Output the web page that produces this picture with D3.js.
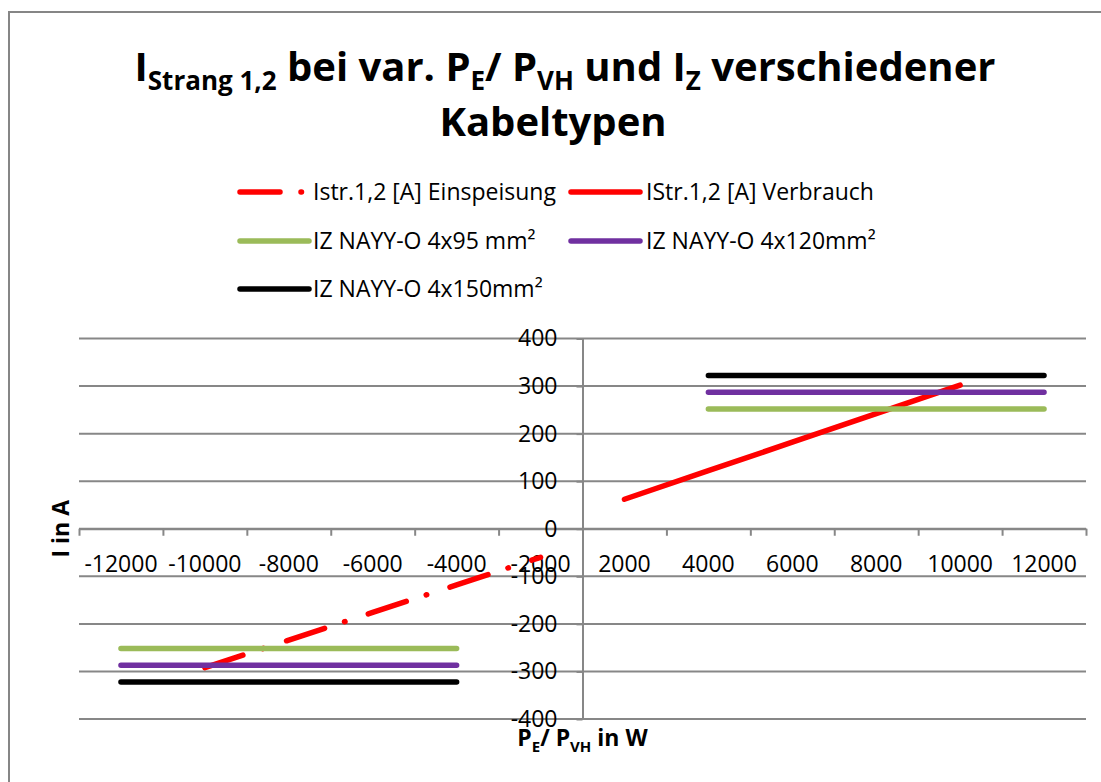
<!DOCTYPE html>
<html>
<head>
<meta charset="utf-8">
<script src="https://cdn.jsdelivr.net/npm/d3@7"></script>
<style>
  html, body { margin: 0; padding: 0; background: #fff; }
  svg { display: block; font-family: "Open Sans", "Noto Sans", sans-serif; }
</style>
</head>
<body>
<svg id="chart" width="1101" height="782"></svg>
<script>
// Power categories (W) on the horizontal axis
const categories = ["-12000", "-10000", "-8000", "-6000", "-4000", "-2000",
                    "2000", "4000", "6000", "8000", "10000", "12000"];

// Strand current while feeding in (negative power)
const einspeisung = [null, -292, -234, -176, -118, -60, null, null, null, null, null, null];
// Strand current while consuming
const verbrauch = [null, null, null, null, null, null, 62, 122, 182, 242, 302, null];
// Permissible current Iz of the cable types
const iz95  = [-252, -252, -252, -252, -252, null, null, 252, 252, 252, 252, 252];
const iz120 = [-287, -287, -287, -287, -287, null, null, 287, 287, 287, 287, 287];
const iz150 = [-322, -322, -322, -322, -322, null, null, 322, 322, 322, 322, 322];

const seriesNames = ["Istr.1,2 [A] Einspeisung", "IStr.1,2 [A] Verbrauch",
                     "IZ NAYY-O 4x95 mm²", "IZ NAYY-O 4x120mm²", "IZ NAYY-O 4x150mm²"];
const yTickValues = [-400, -300, -200, -100, 0, 100, 200, 300, 400];

const COLORS = ["#FF0000", "#FF0000", "#9BBB59", "#7030A0", "#000000"];
const DASH = ["40 21 0.5 24.5", null, null, null, null];
const GRID = "#878787";
const LINE_W = 5.5;

const svg = d3.select("#chart");
const plot = { left: 79, right: 1086, top: 338.5, bottom: 719 };

// outer chart frame
svg.append("rect")
  .attr("x", 9).attr("y", 12).attr("width", 1200).attr("height", 900)
  .attr("fill", "none").attr("stroke", "#868686").attr("stroke-width", 2);

const x = d3.scaleBand().domain(categories).range([plot.left, plot.right]).padding(0);
const xc = c => x(c) + x.bandwidth() / 2;
const y = d3.scaleLinear().domain([-400, 400]).range([plot.bottom, plot.top]);

// horizontal gridlines
svg.append("g").selectAll("line").data(yTickValues).join("line")
  .attr("x1", plot.left).attr("x2", plot.right)
  .attr("y1", d => y(d)).attr("y2", d => y(d))
  .attr("stroke", GRID).attr("stroke-width", 2);

// category axis at I = 0: tick marks on the category boundaries
const boundary = d3.scaleLinear().domain([0, categories.length]).range([plot.left, plot.right]);
const xTicks = svg.append("g").attr("transform", `translate(0,${y(0)})`)
  .call(d3.axisBottom(boundary).tickValues(d3.range(categories.length + 1))
        .tickFormat("").tickSizeInner(7).tickSizeOuter(0));
xTicks.select(".domain").attr("stroke", GRID).attr("stroke-width", 2);
xTicks.selectAll(".tick line").attr("stroke", GRID).attr("stroke-width", 2);

// category labels centred in each band
const xLabels = svg.append("g").attr("transform", `translate(0,${y(0)})`)
  .call(d3.axisBottom(x).tickSize(0).tickPadding(27));
xLabels.select(".domain").remove();
xLabels.selectAll("text").attr("font-size", 23).attr("fill", "#000")
  .attr("font-family", "Open Sans");

// value axis between the negative and positive categories
const yAxisX = boundary(6);
const yAxis = svg.append("g").attr("transform", `translate(${yAxisX},0)`)
  .call(d3.axisLeft(y).tickValues(yTickValues).tickFormat(d => String(d))
        .tickSizeInner(6).tickSizeOuter(0).tickPadding(19));
yAxis.select(".domain").attr("stroke", GRID).attr("stroke-width", 2);
yAxis.selectAll(".tick line").attr("stroke", GRID).attr("stroke-width", 2);
yAxis.selectAll("text").attr("font-size", 23).attr("fill", "#000")
  .attr("font-family", "Open Sans");

// data series
const allSeries = [einspeisung, verbrauch, iz95, iz120, iz150];
const line = d3.line()
  .defined(d => d.v !== null)
  .x(d => xc(d.c))
  .y(d => y(d.v));

const seriesG = svg.append("g");
allSeries.forEach((vals, i) => {
  const pts = vals.map((v, k) => ({ c: categories[k], v }));
  seriesG.append("path")
    .attr("d", line(pts))
    .attr("fill", "none")
    .attr("stroke", COLORS[i])
    .attr("stroke-width", LINE_W)
    .attr("stroke-linecap", "round")
    .attr("stroke-linejoin", "round")
    .attr("stroke-dasharray", DASH[i]);
});

// legend
const legendItems = [
  { x0: 240, x1: 309, tx: 313, ty: 192 },
  { x0: 571, x1: 640, tx: 646, ty: 192 },
  { x0: 240, x1: 309, tx: 313, ty: 241 },
  { x0: 571, x1: 640, tx: 646, ty: 241 },
  { x0: 240, x1: 309, tx: 313, ty: 289 }
];
const legend = svg.append("g");
legendItems.forEach((p, i) => {
  legend.append("line")
    .attr("x1", p.x0).attr("x2", p.x1).attr("y1", p.ty).attr("y2", p.ty)
    .attr("stroke", COLORS[i]).attr("stroke-width", LINE_W)
    .attr("stroke-linecap", "round")
    .attr("stroke-dasharray", DASH[i]);
  legend.append("text")
    .attr("x", p.tx).attr("y", p.ty).attr("dy", "0.36em")
    .attr("font-size", 23).attr("fill", "#000")
    .text(seriesNames[i]);
});

// helper for text with subscripts
function richText(sel, parts, size, subSize, shift) {
  let lowered = false;
  parts.forEach(([txt, sub]) => {
    const t = sel.append("tspan").text(txt);
    if (sub && !lowered) { t.attr("dy", shift); lowered = true; }
    else if (!sub && lowered) { t.attr("dy", -shift); lowered = false; }
    t.attr("font-size", sub ? subSize : size);
  });
}

// title
const title1 = svg.append("text")
  .attr("x", 565).attr("y", 81).attr("text-anchor", "middle")
  .attr("font-weight", "bold").attr("fill", "#000");
richText(title1, [["I"], ["Strang 1,2", true], [" bei var. P"], ["E", true], ["/ P"],
                  ["VH", true], [" und I"], ["Z", true], [" verschiedener"]], 40, 26, 9);
svg.append("text")
  .attr("x", 553).attr("y", 136).attr("text-anchor", "middle")
  .attr("font-weight", "bold").attr("font-size", 40).attr("fill", "#000")
  .text("Kabeltypen");

// axis titles
const xTitle = svg.append("text")
  .attr("x", (plot.left + plot.right) / 2).attr("y", 746).attr("text-anchor", "middle")
  .attr("font-weight", "bold").attr("fill", "#000");
richText(xTitle, [["P"], ["E", true], ["/ P"], ["VH", true], [" in W"]], 23, 15, 6);

svg.append("text")
  .attr("transform", `translate(69,${(plot.top + plot.bottom) / 2}) rotate(-90)`)
  .attr("text-anchor", "middle")
  .attr("font-weight", "bold").attr("font-size", 23).attr("fill", "#000")
  .text("I in A");
</script>
</body>
</html>
